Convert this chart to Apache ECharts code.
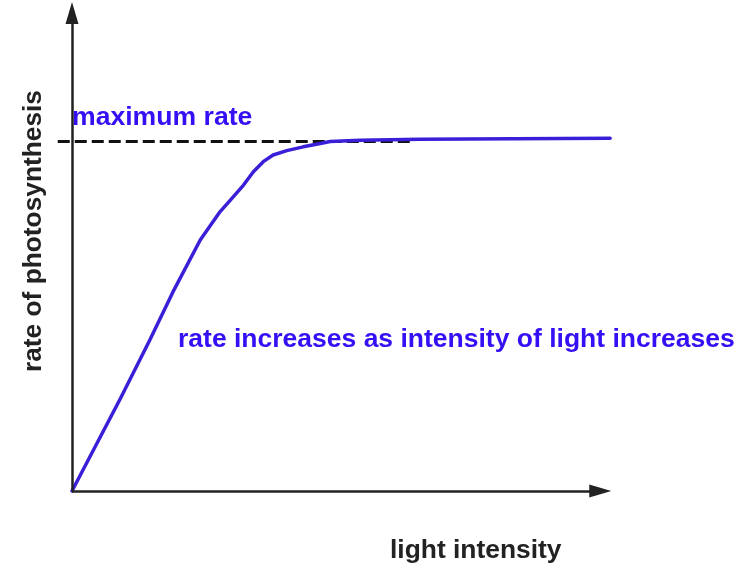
<!DOCTYPE html>
<html>
<head>
<meta charset="utf-8">
<script src="https://cdn.jsdelivr.net/npm/echarts@6/dist/echarts.min.js"></script>
<style>html,body{margin:0;padding:0;background:#fff}#c{width:749px;height:565px}</style>
</head>
<body>
<div id="c"></div>
<script>
// light intensity (arbitrary units)
const lightIntensity = [0, 8.76, 14.2, 18.4, 23.4, 27.0, 29.1, 31.3, 33.1, 34.9, 36.7, 39.2, 42.2, 45.3, 47.1, 52.6, 63.5, 98.2];
// rate of photosynthesis (arbitrary units)
const photoRate = [0, 19.2, 31.6, 41.6, 52.5, 58.4, 61.1, 64.0, 66.8, 68.9, 70.3, 71.2, 72.0, 72.7, 73.1, 73.4, 73.6, 73.8];
const maxRate = 73.1;
const maxLineX = [-2.6, 61.7];
const xAxisEnd = 96.4;
const yAxisEnd = 100;
const xTitle = 'light intensity';
const yTitle = 'rate of photosynthesis';
const maxLabel = 'maximum rate';
const slopeLabel = 'rate increases as intensity of light increases';

const chart = echarts.init(document.getElementById('c'), null, {renderer: 'canvas'});
const font = 'Liberation Sans, Arial, sans-serif';
const blue = '#3510f5';
chart.setOption({
  animation: false,
  backgroundColor: '#ffffff',
  grid: {left: 44.6, top: 13, width: 575.4, height: 478},
  xAxis: {type: 'value', min: -5, max: 100, show: false},
  yAxis: {type: 'value', min: 0, max: 100, show: false},
  series: [
    {
      type: 'line', clip: false, silent: true,
      data: [],
      markLine: {
        silent: true, animation: false,
        symbol: ['none', 'triangle'],
        symbolSize: [13, 22],
        label: {show: false},
        lineStyle: {color: '#222', width: 2.5, type: 'solid'},
        data: [
          [{coord: [0, 0]}, {coord: [0, yAxisEnd]}],
          [{coord: [0, 0]}, {coord: [xAxisEnd, 0]}]
        ]
      }
    },
    {
      type: 'line', clip: false, silent: true,
      data: maxLineX.map(x => [x, maxRate]),
      showSymbol: false,
      lineStyle: {color: '#111', width: 3, type: [12, 5]}
    },
    {
      type: 'line', clip: false, silent: true,
      data: lightIntensity.map((x, i) => [x, photoRate[i]]),
      smooth: false,
      showSymbol: false,
      lineStyle: {color: '#3a1fd8', width: 3.5, join: 'round', cap: 'round'}
    }
  ],
  graphic: [
    {type: 'text', x: 72, y: 118, style: {text: maxLabel, font: 'bold 26.6px ' + font, fill: blue, verticalAlign: 'middle'}},
    {type: 'text', x: 178, y: 340, style: {text: slopeLabel, font: 'bold 26.5px ' + font, fill: blue, verticalAlign: 'middle'}},
    {type: 'text', x: 390, y: 551, style: {text: xTitle, font: 'bold 26.4px ' + font, fill: '#222', verticalAlign: 'middle'}},
    {type: 'text', x: 34, y: 231, rotation: Math.PI / 2, style: {text: yTitle, font: 'bold 26.3px ' + font, fill: '#222', align: 'center', verticalAlign: 'middle'}}
  ]
});
</script>
</body>
</html>
